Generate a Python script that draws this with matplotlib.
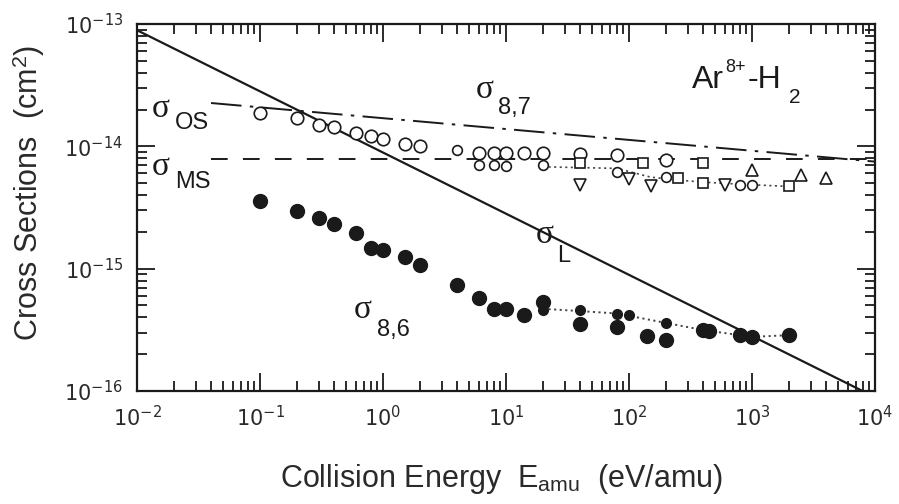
import numpy as np
import matplotlib
matplotlib.use('Agg')
import matplotlib.pyplot as plt
from matplotlib.ticker import FixedLocator, LogFormatterMathtext, NullFormatter

# Langevin cross section (straight line in log-log), end points
E_L = [1e-2, 1e4]
sig_L = [8.9e-14, 8.9e-17]

# orbiting / model cross sections
E_OS = [0.04, 1e4]
sig_OS = [2.26e-14, 7.5e-15]
E_MS = [0.04, 1e4]
sig_MS = [7.9e-15, 7.9e-15]

# sigma_8,7 data (open symbols)
E87_circ = [0.1, 0.2, 0.3, 0.4, 0.6, 0.8, 1.0, 1.5, 2.0, 6, 8, 10, 14, 20, 40, 80, 200]
s87_circ = [1.86e-14, 1.71e-14, 1.49e-14, 1.45e-14, 1.29e-14, 1.21e-14, 1.14e-14,
            1.05e-14, 1.01e-14, 8.8e-15, 8.8e-15, 8.8e-15, 8.8e-15, 8.8e-15,
            8.6e-15, 8.5e-15, 7.7e-15]
E87_small = [4, 6, 8, 10, 20, 80, 200, 800, 1000]
s87_small = [9.3e-15, 7.0e-15, 7.0e-15, 6.9e-15, 7.0e-15, 6.2e-15, 5.6e-15, 4.8e-15, 4.8e-15]
E87_sq = [40, 130, 250, 400, 400, 2000]
s87_sq = [7.3e-15, 7.3e-15, 5.5e-15, 7.3e-15, 5.0e-15, 4.7e-15]
E87_dn = [40, 100, 150, 600]
s87_dn = [4.8e-15, 5.4e-15, 4.7e-15, 4.8e-15]
E87_up = [1000, 2500, 4000]
s87_up = [6.4e-15, 5.8e-15, 5.5e-15]
E87_avg = [20, 40, 80, 150, 250, 400, 800, 2000]
s87_avg = [6.8e-15, 6.7e-15, 6.6e-15, 5.6e-15, 5.3e-15, 5.1e-15, 4.9e-15, 4.7e-15]

# sigma_8,6 data (filled circles)
E86 = [0.1, 0.2, 0.3, 0.4, 0.6, 0.8, 1.0, 1.5, 2, 4, 6, 8, 10, 14, 20,
       40, 80, 140, 200, 400, 450, 800, 1000, 2000]
s86 = [3.6e-15, 2.97e-15, 2.58e-15, 2.3e-15, 1.94e-15, 1.47e-15, 1.42e-15,
       1.25e-15, 1.07e-15, 7.3e-16, 5.8e-16, 4.7e-16, 4.7e-16, 4.2e-16, 5.3e-16,
       3.5e-16, 3.35e-16, 2.8e-16, 2.6e-16, 3.15e-16, 3.1e-16, 2.86e-16, 2.77e-16, 2.86e-16]
E86_small = [20, 40, 80, 100, 200]
s86_small = [4.6e-16, 4.6e-16, 4.3e-16, 4.2e-16, 3.6e-16]
E86_avg = [20, 40, 80, 200, 400, 800, 1000, 2000]
s86_avg = [4.7e-16, 4.5e-16, 4.3e-16, 3.6e-16, 3.15e-16, 2.86e-16, 2.77e-16, 2.86e-16]

# decades shown on each axis
x_decades = [-2, -1, 0, 1, 2, 3, 4]
y_decades = [-16, -15, -14, -13]

plt.rcParams['font.family'] = 'Liberation Sans'
plt.rcParams['mathtext.fontset'] = 'custom'
plt.rcParams['mathtext.rm'] = 'Liberation Sans'
plt.rcParams['mathtext.it'] = 'Liberation Serif'
plt.rcParams['lines.scale_dashes'] = False

ink = '#1a1a1a'
W, H = 899, 504
fig = plt.figure(figsize=(W / 100, H / 100), dpi=100)
x0, x1, y0, y1 = 137, 875, 24, 391
ax = fig.add_axes([x0 / W, 1 - y1 / H, (x1 - x0) / W, (y1 - y0) / H])

ax.plot(E_L, sig_L, color=ink, lw=1.6)
ax.plot(E_OS, sig_OS, color=ink, lw=1.4, dashes=[22, 6, 2.5, 6])
ax.plot(E_MS, sig_MS, color=ink, lw=1.4, dashes=[12, 11])

ax.plot(E87_avg, s87_avg, color='#444444', lw=1.2, dashes=[1.5, 2.5])
ax.plot(E86_avg, s86_avg, color='#444444', lw=1.4, dashes=[1.5, 2.5])

op = dict(ls='none', mfc='white', mec=ink, mew=1.2)
ax.plot(E87_circ, s87_circ, marker='o', ms=9, **op)
ax.plot(E87_small, s87_small, marker='o', ms=7, **op)
ax.plot(E87_sq, s87_sq, marker='s', ms=7.5, **op)
ax.plot(E87_dn, s87_dn, marker='v', ms=8, **op)
ax.plot(E87_up, s87_up, marker='^', ms=8, **op)

ax.plot(E86, s86, ls='none', marker='o', ms=10, color=ink)
ax.plot(E86_small, s86_small, ls='none', marker='o', ms=7, color=ink)

ax.set_xscale('log')
ax.set_yscale('log')
ax.set_xlim(1e-2, 1e4)
ax.set_ylim(1e-16, 1e-13)

for axis, dec in ((ax.xaxis, x_decades), (ax.yaxis, y_decades)):
    major = [10.0 ** d for d in dec]
    minor = [m * 10.0 ** d for d in dec[:-1] for m in range(2, 10)]
    axis.set_major_locator(FixedLocator(major))
    axis.set_minor_locator(FixedLocator(minor))
    axis.set_major_formatter(LogFormatterMathtext())
    axis.set_minor_formatter(NullFormatter())

ax.tick_params(which='both', direction='in', top=True, right=True,
               color=ink, width=1.3)
ax.tick_params(which='major', length=13, pad=10, labelsize=15,
               labelcolor='#2a2a2a', labelfontfamily='DejaVu Sans')
ax.tick_params(which='minor', length=7)
for sp in ax.spines.values():
    sp.set_linewidth(1.6)
    sp.set_color(ink)


def fx(px):
    return (px - x0) / (x1 - x0)


def fy(py):
    return (y1 - py) / (y1 - y0)


def put(px, py, s, size, family='Liberation Sans'):
    ax.text(fx(px), fy(py), s, transform=ax.transAxes, fontsize=size,
            family=family, color=ink, ha='left', va='baseline')


def sigma(px, py, sub, spx, spy):
    put(px, py, 'σ', 24, 'Liberation Serif')
    put(spx, spy, sub, 17)


sigma(152, 117, 'OS', 175, 129)
sigma(152, 175, 'MS', 175, 188)
sigma(476, 98, '8,7', 498, 114)
sigma(536, 243, 'L', 557, 262)
sigma(354, 318, '8,6', 377, 336)

put(692, 88, 'Ar', 23)
put(725, 72, '8+', 13)
put(748, 88, '-H', 23)
put(789, 103, '2', 15)

fig.text(501 / W, 1 - 487 / H, r'Collision Energy  $\mathrm{E}_{\mathrm{amu}}$  (eV/amu)',
         fontsize=22, color='#2a2a2a', ha='center', va='baseline')
fig.text(29 / W, 1 - 193 / H, r'Cross Sections  (cm$^{\mathrm{2}}$)',
         fontsize=22, color='#2a2a2a', ha='center', va='center', rotation=90)

fig.savefig('out.png', dpi=100)
